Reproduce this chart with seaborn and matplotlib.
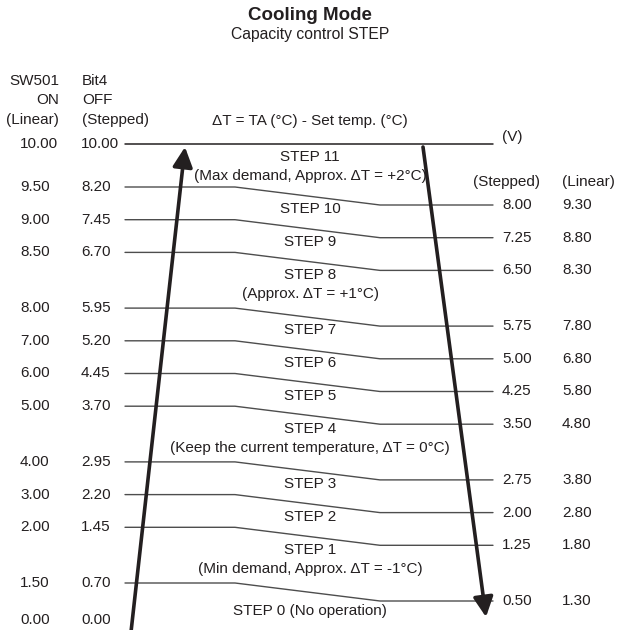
import numpy as np
import pandas as pd
import matplotlib
matplotlib.use("Agg")
import matplotlib.pyplot as plt
import seaborn as sns

# threshold voltages, top (10 V) to bottom (0 V)
left_linear = [10.00, 9.50, 9.00, 8.50, 8.00, 7.00, 6.00, 5.00, 4.00, 3.00, 2.00, 1.50, 0.00]
left_stepped = [10.00, 8.20, 7.45, 6.70, 5.95, 5.20, 4.45, 3.70, 2.95, 2.20, 1.45, 0.70, 0.00]
right_stepped = [8.00, 7.25, 6.50, 5.75, 5.00, 4.25, 3.50, 2.75, 2.00, 1.25, 0.50]
right_linear = [9.30, 8.80, 8.30, 7.80, 6.80, 5.80, 4.80, 3.80, 2.80, 1.80, 1.30]

step_names = ["STEP 11", "STEP 10", "STEP 9", "STEP 8", "STEP 7", "STEP 6",
              "STEP 5", "STEP 4", "STEP 3", "STEP 2", "STEP 1", "STEP 0 (No operation)"]
step_notes = ["(Max demand, Approx. \u0394T = +2\u00b0C)", "", "", "(Approx. \u0394T = +1\u00b0C)",
              "", "", "", "(Keep the current temperature, \u0394T = 0\u00b0C)", "", "",
              "(Min demand, Approx. \u0394T = -1\u00b0C)", ""]

sns.set_theme(style="white")
plt.rcParams["font.family"] = ["Liberation Sans", "DejaVu Sans"]
ink = "#231f20"
fs = 11

fig = plt.figure(figsize=(6.17, 6.30), dpi=100)
ax = fig.add_axes([0, 0, 1, 1])

# schematic row layout (rows are not proportional to volts)
row = 32.7
ys = [144.0]
for j in range(len(left_stepped) - 1):
    if j == 0:
        gap = 43
    elif j == len(left_stepped) - 2:
        gap = 37
    else:
        gap = row + (23 if step_notes[j] else 0)
    ys.append(ys[-1] + gap)
drop = 18
x0, x1, x2, x3 = 125, 235, 380, 493
xc = 310

# sloped threshold lines
recs = []
for i in range(1, len(right_stepped) + 1):
    yl, yr = ys[i], ys[i] + drop
    for x, y in [(x0, yl), (x1, yl), (x2, yr), (x3, yr)]:
        recs.append({"line": i, "x": x, "y": y})
df = pd.DataFrame(recs)
sns.lineplot(data=df, x="x", y="y", units="line", estimator=None, sort=False,
             color="#4d4d4d", lw=1.0, ax=ax, legend=False)
ax.set_xlim(0, 617)
ax.set_ylim(630, 0)
ax.axis("off")
# top (10 V) line
ax.plot([x0, x3], [ys[0], ys[0]], color=ink, lw=1.1)

# left value columns
for v1, v2, y in zip(left_linear, left_stepped, ys):
    ax.text(20, y, f"{v1:.2f}", ha="left", va="center", fontsize=fs, color=ink)
    ax.text(81, y, f"{v2:.2f}", ha="left", va="center", fontsize=fs, color=ink)
# right value columns
for i, (v1, v2) in enumerate(zip(right_stepped, right_linear), start=1):
    y = ys[i] + drop
    ax.text(502, y, f"{v1:.2f}", ha="left", va="center", fontsize=fs, color=ink)
    ax.text(562, y, f"{v2:.2f}", ha="left", va="center", fontsize=fs, color=ink)

# headers
for k, s in enumerate(["SW501", "ON", "(Linear)"]):
    ax.text(59, 81 + 19.5 * k, s, ha="right", va="center", fontsize=fs, color=ink)
for k, s in enumerate(["Bit4", "OFF", "(Stepped)"]):
    ax.text(82, 81 + 19.5 * k, s, ha="left", va="center", fontsize=fs, color=ink)
ax.text(473, 182, "(Stepped)", ha="left", va="center", fontsize=fs, color=ink)
ax.text(562, 182, "(Linear)", ha="left", va="center", fontsize=fs, color=ink)
ax.text(502, 137, "(V)", ha="left", va="center", fontsize=fs, color=ink)
ax.text(xc, 121, "\u0394T = TA (\u00b0C) - Set temp. (\u00b0C)", ha="center", va="center",
        fontsize=fs, color=ink)
ax.text(xc, 15, "Cooling Mode", ha="center", va="center", fontsize=13.5,
        fontweight="bold", color=ink)
ax.text(xc, 34, "Capacity control STEP", ha="center", va="center", fontsize=11.3, color=ink)

# step labels
for j, (name, note) in enumerate(zip(step_names, step_notes)):
    top = ys[j] if j == 0 else ys[j] + drop * (xc - x1) / (x2 - x1)
    off = 19 if j == len(step_names) - 1 else 13
    ax.text(xc, top + off, name, ha="center", va="center", fontsize=fs, color=ink)
    if note:
        ax.text(xc, top + 32, note, ha="center", va="center", fontsize=fs, color=ink)

# arrows
style = "-|>,head_length=1.0,head_width=0.5"
ax.annotate("", xy=(185, ys[0] + 3), xytext=(131, 632),
            arrowprops=dict(arrowstyle=style, lw=2.6, color=ink, shrinkA=0, shrinkB=0))
ax.annotate("", xy=(486, 617), xytext=(423, ys[0] + 3),
            arrowprops=dict(arrowstyle=style, lw=2.6, color=ink, shrinkA=0, shrinkB=0))

fig.savefig("out.png", dpi=100)
